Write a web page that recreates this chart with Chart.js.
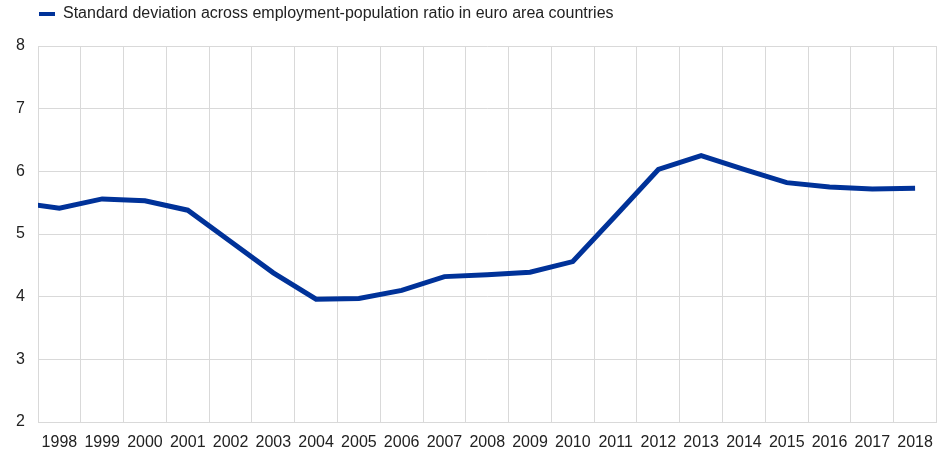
<!DOCTYPE html>
<html>
<head>
<meta charset="utf-8">
<script src="https://cdn.jsdelivr.net/npm/chart.js@4/dist/chart.umd.min.js"></script>
<style>
html,body{margin:0;padding:0;background:#fff;}
#wrap{width:944px;height:454px;position:relative;}
</style>
</head>
<body>
<div id="wrap"><canvas id="c" width="944" height="454"></canvas></div>
<script>
// Categories (1997 lies just outside the visible range; the line enters from the left edge)
const years = ['1997','1998','1999','2000','2001','2002','2003','2004','2005','2006','2007','2008','2009','2010','2011','2012','2013','2014','2015','2016','2017','2018'];
const stdDev = [5.51,5.41,5.56,5.53,5.38,4.88,4.38,3.96,3.97,4.10,4.32,4.35,4.39,4.56,5.29,6.03,6.25,6.03,5.82,5.75,5.72,5.73];
const seriesLabel = 'Standard deviation across employment-population ratio in euro area countries';
const yTicks = [2,3,4,5,6,7,8];

const FONT = 'Liberation Sans, Arial, sans-serif';
const GRID = '#d9d9d9';
const BLUE = '#003299';

const legendTweak = {
  id: 'legendTweak',
  beforeInit(chart) {
    const fit = chart.legend.fit;
    chart.legend.fit = function () {
      fit.call(this);
      this.height = 46;
    };
  },
  afterLayout(chart) {
    chart.legend.left = 33;
  }
};

new Chart(document.getElementById('c'), {
  type: 'line',
  data: {
    labels: years,
    datasets: [{
      label: seriesLabel,
      data: stdDev,
      borderColor: BLUE,
      backgroundColor: BLUE,
      borderWidth: 5,
      pointRadius: 0,
      tension: 0,
      fill: false
    }]
  },
  plugins: [legendTweak],
  options: {
    responsive: false,
    animation: false,
    layout: { padding: { left: 0, right: 5, top: 0, bottom: 0 } },
    plugins: {
      legend: {
        position: 'top',
        align: 'start',
        labels: {
          boxWidth: 16,
          boxHeight: 4,
          padding: 6,
          color: '#222',
          font: { family: FONT, size: 16 },
          generateLabels(chart) {
            return Chart.defaults.plugins.legend.labels.generateLabels(chart)
              .map(l => Object.assign(l, { lineWidth: 0, strokeStyle: BLUE }));
          }
        }
      },
      tooltip: { enabled: false }
    },
    scales: {
      x: {
        type: 'category',
        min: '1998',
        offset: true,
        grid: { offset: true, color: GRID, lineWidth: 1, drawTicks: false },
        border: { color: GRID },
        ticks: { color: '#222', font: { family: FONT, size: 16 }, padding: 11, maxRotation: 0, autoSkip: false },
        afterFit(s) { s.height = 32; }
      },
      y: {
        min: 2,
        max: 8,
        afterBuildTicks(s) { s.ticks = yTicks.map(v => ({ value: v })); },
        grid: { color: GRID, lineWidth: 1, drawTicks: false },
        border: { color: GRID },
        ticks: { color: '#222', font: { family: FONT, size: 16 }, padding: 13 },
        afterFit(s) { s.width = 38; }
      }
    }
  }
});
</script>
</body>
</html>
